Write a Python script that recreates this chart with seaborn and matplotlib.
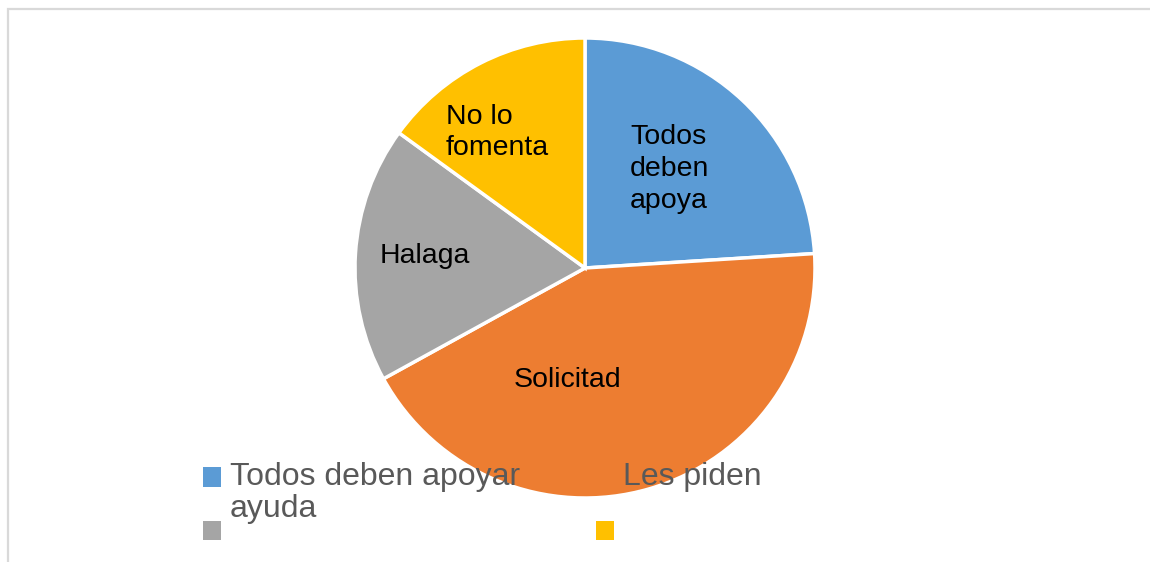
import matplotlib
matplotlib.use("Agg")
import matplotlib.pyplot as plt
import seaborn as sns
from matplotlib.patches import Rectangle, Patch
from matplotlib.legend_handler import HandlerPatch

# slice data (clockwise from 12 o'clock)
categories = ["Todos deben apoyar ayuda", "Les piden", "Halaga", "No lo fomenta"]
values = [24, 43, 18, 15]
slice_labels = ["Todos\ndeben\napoya", "Solicitad", "Halaga", "No lo\nfomenta"]
colors = ["#5B9BD5", "#ED7D31", "#A5A5A5", "#FFC000"]

sns.set_theme(style="white")
plt.rcParams['font.family'] = ['Liberation Sans', 'DejaVu Sans']

fig = plt.figure(figsize=(11.5, 5.62), dpi=100)
fig.patch.set_facecolor("white")

# light chart frame (only top/left visible in the crop)
fig.patches.append(Rectangle((8 / 1150, -0.2), 2.0, 1.2 - 9 / 562,
                             transform=fig.transFigure, fill=False,
                             edgecolor="#d9d9d9", lw=1.6))

ax = fig.add_axes([355 / 1150, 64 / 562, 460 / 1150, 460 / 562])
wedges, _ = ax.pie(values, colors=colors, startangle=90, counterclock=False,
                   radius=1.0, wedgeprops=dict(edgecolor="white", linewidth=2.5))
ax.set_xlim(-1, 1)
ax.set_ylim(-1, 1)
ax.set_axis_off()

# data labels (placed like Excel's best fit)
label_pos = [(0.196, 0.43, "left"), (-0.074, -0.487, "center"),
             (-0.696, 0.052, "center"), (-0.605, 0.59, "left")]
for txt, (x, y, ha) in zip(slice_labels, label_pos):
    ax.text(x, y, txt, ha=ha, va="center", fontsize=20.5, color="black",
            linespacing=1.28)


# first-row markers sit on the first text line, not the last
line_shift = 16 * 72 / 100.0


def top_square(legend, orig_handle, xdescent, ydescent, width, height, fontsize):
    return Rectangle((-xdescent, -ydescent + line_shift), width, height)


handles = [Patch(facecolor=c, edgecolor="none") for c in colors]
order = [0, 2, 1, 3]
leg_labels = ["Todos deben apoyar\nayuda", " ", "Les piden\n ", " "]
hmap = {handles[0]: HandlerPatch(patch_func=top_square),
        handles[1]: HandlerPatch(patch_func=top_square)}
leg = fig.legend([handles[i] for i in order], leg_labels, ncol=2,
                 loc="upper left", bbox_to_anchor=(203 / 1150, 1 - 462 / 562),
                 frameon=False, fontsize=23, borderpad=0, borderaxespad=0,
                 handlelength=0.56, handleheight=0.56, handletextpad=0.28,
                 columnspacing=2.38, labelspacing=-0.15, handler_map=hmap)
for t in leg.get_texts():
    t.set_color("#595959")
    t.set_linespacing(1.08)

fig.savefig("out.png", dpi=100)
